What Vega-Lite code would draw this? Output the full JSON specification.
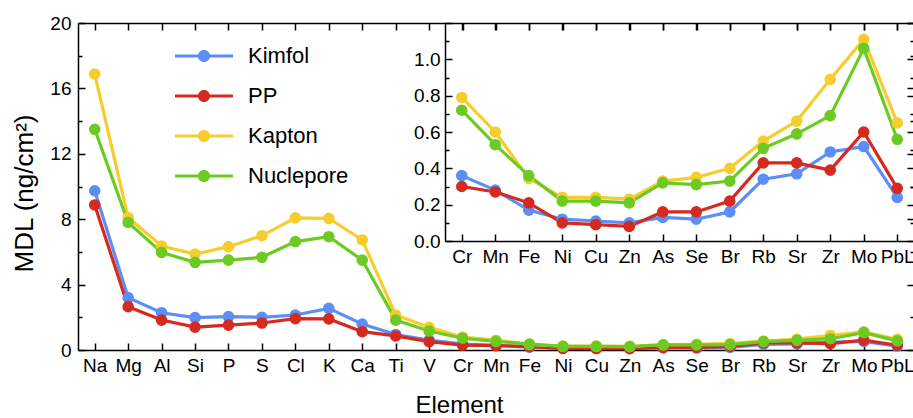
{
  "$schema": "https://vega.github.io/schema/vega-lite/v6.json",
  "width": 836,
  "height": 327,
  "autosize": {"type": "none"},
  "padding": {"left": 78, "top": 23, "right": 0, "bottom": 68},
  "background": "white",
  "config": {
    "view": {"stroke": null},
    "font": "Liberation Sans",
    "axis": {
      "domainColor": "black",
      "domainWidth": 1.5,
      "tickColor": "black",
      "tickWidth": 1.5,
      "labelColor": "black",
      "labelFont": "Liberation Sans",
      "titleFont": "Liberation Sans",
      "titleColor": "black",
      "titleFontWeight": "normal",
      "grid": false,
      "labelOverlap": false
    }
  },
  "datasets": {
    "mdl": [
      {"element": "Na", "filter": "Kimfol", "value": 9.74},
      {"element": "Mg", "filter": "Kimfol", "value": 3.2},
      {"element": "Al", "filter": "Kimfol", "value": 2.28},
      {"element": "Si", "filter": "Kimfol", "value": 1.98},
      {"element": "P", "filter": "Kimfol", "value": 2.04},
      {"element": "S", "filter": "Kimfol", "value": 2.0},
      {"element": "Cl", "filter": "Kimfol", "value": 2.14},
      {"element": "K", "filter": "Kimfol", "value": 2.55},
      {"element": "Ca", "filter": "Kimfol", "value": 1.59},
      {"element": "Ti", "filter": "Kimfol", "value": 0.95},
      {"element": "V", "filter": "Kimfol", "value": 0.6},
      {"element": "Cr", "filter": "Kimfol", "value": 0.36},
      {"element": "Mn", "filter": "Kimfol", "value": 0.28},
      {"element": "Fe", "filter": "Kimfol", "value": 0.17},
      {"element": "Ni", "filter": "Kimfol", "value": 0.12},
      {"element": "Cu", "filter": "Kimfol", "value": 0.11},
      {"element": "Zn", "filter": "Kimfol", "value": 0.10},
      {"element": "As", "filter": "Kimfol", "value": 0.13},
      {"element": "Se", "filter": "Kimfol", "value": 0.12},
      {"element": "Br", "filter": "Kimfol", "value": 0.16},
      {"element": "Rb", "filter": "Kimfol", "value": 0.34},
      {"element": "Sr", "filter": "Kimfol", "value": 0.37},
      {"element": "Zr", "filter": "Kimfol", "value": 0.49},
      {"element": "Mo", "filter": "Kimfol", "value": 0.52},
      {"element": "PbL", "filter": "Kimfol", "value": 0.24},
      {"element": "Na", "filter": "PP", "value": 8.87},
      {"element": "Mg", "filter": "PP", "value": 2.65},
      {"element": "Al", "filter": "PP", "value": 1.83},
      {"element": "Si", "filter": "PP", "value": 1.4},
      {"element": "P", "filter": "PP", "value": 1.52},
      {"element": "S", "filter": "PP", "value": 1.65},
      {"element": "Cl", "filter": "PP", "value": 1.92},
      {"element": "K", "filter": "PP", "value": 1.9},
      {"element": "Ca", "filter": "PP", "value": 1.12},
      {"element": "Ti", "filter": "PP", "value": 0.86},
      {"element": "V", "filter": "PP", "value": 0.51},
      {"element": "Cr", "filter": "PP", "value": 0.30},
      {"element": "Mn", "filter": "PP", "value": 0.27},
      {"element": "Fe", "filter": "PP", "value": 0.21},
      {"element": "Ni", "filter": "PP", "value": 0.10},
      {"element": "Cu", "filter": "PP", "value": 0.09},
      {"element": "Zn", "filter": "PP", "value": 0.08},
      {"element": "As", "filter": "PP", "value": 0.16},
      {"element": "Se", "filter": "PP", "value": 0.16},
      {"element": "Br", "filter": "PP", "value": 0.22},
      {"element": "Rb", "filter": "PP", "value": 0.43},
      {"element": "Sr", "filter": "PP", "value": 0.43},
      {"element": "Zr", "filter": "PP", "value": 0.39},
      {"element": "Mo", "filter": "PP", "value": 0.60},
      {"element": "PbL", "filter": "PP", "value": 0.29},
      {"element": "Na", "filter": "Kapton", "value": 16.88},
      {"element": "Mg", "filter": "Kapton", "value": 8.1},
      {"element": "Al", "filter": "Kapton", "value": 6.36},
      {"element": "Si", "filter": "Kapton", "value": 5.87},
      {"element": "P", "filter": "Kapton", "value": 6.32},
      {"element": "S", "filter": "Kapton", "value": 6.99},
      {"element": "Cl", "filter": "Kapton", "value": 8.08},
      {"element": "K", "filter": "Kapton", "value": 8.05},
      {"element": "Ca", "filter": "Kapton", "value": 6.73},
      {"element": "Ti", "filter": "Kapton", "value": 2.14},
      {"element": "V", "filter": "Kapton", "value": 1.39},
      {"element": "Cr", "filter": "Kapton", "value": 0.79},
      {"element": "Mn", "filter": "Kapton", "value": 0.60},
      {"element": "Fe", "filter": "Kapton", "value": 0.345},
      {"element": "Ni", "filter": "Kapton", "value": 0.24},
      {"element": "Cu", "filter": "Kapton", "value": 0.24},
      {"element": "Zn", "filter": "Kapton", "value": 0.23},
      {"element": "As", "filter": "Kapton", "value": 0.33},
      {"element": "Se", "filter": "Kapton", "value": 0.35},
      {"element": "Br", "filter": "Kapton", "value": 0.40},
      {"element": "Rb", "filter": "Kapton", "value": 0.55},
      {"element": "Sr", "filter": "Kapton", "value": 0.66},
      {"element": "Zr", "filter": "Kapton", "value": 0.89},
      {"element": "Mo", "filter": "Kapton", "value": 1.11},
      {"element": "PbL", "filter": "Kapton", "value": 0.65},
      {"element": "Na", "filter": "Nuclepore", "value": 13.5},
      {"element": "Mg", "filter": "Nuclepore", "value": 7.8},
      {"element": "Al", "filter": "Nuclepore", "value": 5.97},
      {"element": "Si", "filter": "Nuclepore", "value": 5.36},
      {"element": "P", "filter": "Nuclepore", "value": 5.5},
      {"element": "S", "filter": "Nuclepore", "value": 5.67},
      {"element": "Cl", "filter": "Nuclepore", "value": 6.63},
      {"element": "K", "filter": "Nuclepore", "value": 6.93},
      {"element": "Ca", "filter": "Nuclepore", "value": 5.5},
      {"element": "Ti", "filter": "Nuclepore", "value": 1.83},
      {"element": "V", "filter": "Nuclepore", "value": 1.16},
      {"element": "Cr", "filter": "Nuclepore", "value": 0.72},
      {"element": "Mn", "filter": "Nuclepore", "value": 0.53},
      {"element": "Fe", "filter": "Nuclepore", "value": 0.36},
      {"element": "Ni", "filter": "Nuclepore", "value": 0.22},
      {"element": "Cu", "filter": "Nuclepore", "value": 0.22},
      {"element": "Zn", "filter": "Nuclepore", "value": 0.21},
      {"element": "As", "filter": "Nuclepore", "value": 0.32},
      {"element": "Se", "filter": "Nuclepore", "value": 0.31},
      {"element": "Br", "filter": "Nuclepore", "value": 0.33},
      {"element": "Rb", "filter": "Nuclepore", "value": 0.51},
      {"element": "Sr", "filter": "Nuclepore", "value": 0.59},
      {"element": "Zr", "filter": "Nuclepore", "value": 0.69},
      {"element": "Mo", "filter": "Nuclepore", "value": 1.06},
      {"element": "PbL", "filter": "Nuclepore", "value": 0.56}
    ]
  },
  "data": {"name": "mdl"},
  "resolve": {
    "scale": {"x": "independent", "y": "independent"},
    "axis": {"x": "independent", "y": "independent"}
  },
  "layer": [
    {
      "mark": {"type": "tick", "opacity": 0},
      "encoding": {
        "x": {
          "field": "element", "type": "nominal",
          "scale": {"type": "point", "padding": 0.5, "domain": ["Na","Mg","Al","Si","P","S","Cl","K","Ca","Ti","V","Cr","Mn","Fe","Ni","Cu","Zn","As","Se","Br","Rb","Sr","Zr","Mo","PbL"]},
          "axis": {"orient": "top", "labels": false, "title": null, "tickSize": -7}
        },
        "y": {
          "field": "value", "type": "quantitative",
          "scale": {"domain": [0, 20]},
          "axis": {"orient": "right", "labels": false, "title": null,
            "values": [0,2,4,6,8,10,12,14,16,18,20],
            "tickSize": {"condition": {"test": "datum.value % 4 === 0", "value": -7}, "value": -4}}
        }
      }
    },
    {
      "mark": {"type": "line", "strokeWidth": 3.2, "point": {"filled": true, "size": 135, "opacity": 1}},
      "encoding": {
        "x": {
          "field": "element", "type": "nominal",
          "scale": {"type": "point", "padding": 0.5, "domain": ["Na","Mg","Al","Si","P","S","Cl","K","Ca","Ti","V","Cr","Mn","Fe","Ni","Cu","Zn","As","Se","Br","Rb","Sr","Zr","Mo","PbL"]},
          "axis": {"orient": "bottom", "labelAngle": 0, "labelFontSize": 19, "tickSize": -7, "labelPadding": 13,
            "title": "Element", "titleFontSize": 24, "titleX": 381, "titleY": 62, "titleAlign": "center", "titleBaseline": "alphabetic"}
        },
        "y": {
          "field": "value", "type": "quantitative",
          "scale": {"domain": [0, 20]},
          "axis": {"orient": "left", "values": [0,2,4,6,8,10,12,14,16,18,20],
            "labelExpr": "datum.value % 4 === 0 ? datum.label : ''",
            "labelFontSize": 19, "labelPadding": 14,
            "tickSize": {"condition": {"test": "datum.value % 4 === 0", "value": -7}, "value": -4},
            "title": "MDL (ng/cm²)", "titleFontSize": 26, "titleX": -46, "titleY": 170, "titleAngle": -90,
            "titleAlign": "center", "titleBaseline": "alphabetic"}
        },
        "color": {
          "field": "filter", "type": "nominal",
          "scale": {"domain": ["Kimfol", "PP", "Kapton", "Nuclepore"], "range": ["#5b8ff7", "#d42a20", "#f5cd2e", "#6ccb22"]},
          "legend": {
            "orient": "none", "legendX": 97, "legendY": 4, "title": null, "padding": 0,
            "symbolType": "M-1,-0.055L1,-0.055L1,0.055L-1,0.055Z M-0.21,0A0.21,0.21 0 1,1 0.21,0A0.21,0.21 0 1,1 -0.21,0Z",
            "symbolSize": 3364, "symbolStrokeWidth": 0, "rowPadding": -27,
            "labelFontSize": 22, "labelOffset": 15, "labelColor": "black", "labelFont": "Liberation Sans",
            "encode": {"symbols": {"update": {"fill": {"scale": "color", "field": "value"}, "fillOpacity": {"value": 1}}}}
          }
        }
      }
    },
    {
      "transform": [{"filter": {"field": "element", "oneOf": ["Cr","Mn","Fe","Ni","Cu","Zn","As","Se","Br","Rb","Sr","Zr","Mo","PbL"]}}],
      "mark": {"type": "tick", "opacity": 0},
      "encoding": {
        "x": {
          "field": "element", "type": "nominal",
          "scale": {"type": "point", "padding": 0.5, "range": [367, 836], "domain": ["Cr","Mn","Fe","Ni","Cu","Zn","As","Se","Br","Rb","Sr","Zr","Mo","PbL"]},
          "axis": {"orient": "top", "labels": false, "title": null, "tickSize": -7, "domain": false}
        },
        "y": {
          "field": "value", "type": "quantitative",
          "scale": {"domain": [0, 1.2], "range": [218, 0]},
          "axis": {"orient": "right", "labels": false, "title": null,
            "values": [0,0.1,0.2,0.3,0.4,0.5,0.6,0.7,0.8,0.9,1.0,1.1,1.2],
            "tickSize": {"condition": {"test": "round(datum.value*10) % 2 === 0", "value": -7}, "value": -4}}
        }
      }
    },
    {
      "transform": [{"filter": {"field": "element", "oneOf": ["Cr","Mn","Fe","Ni","Cu","Zn","As","Se","Br","Rb","Sr","Zr","Mo","PbL"]}}],
      "mark": {"type": "line", "strokeWidth": 3.2, "point": {"filled": true, "size": 135, "opacity": 1}},
      "encoding": {
        "x": {
          "field": "element", "type": "nominal",
          "scale": {"type": "point", "padding": 0.5, "range": [367, 836], "domain": ["Cr","Mn","Fe","Ni","Cu","Zn","As","Se","Br","Rb","Sr","Zr","Mo","PbL"]},
          "axis": {"orient": "bottom", "offset": -109, "labelAngle": 0, "labelFontSize": 19, "tickSize": -7, "labelPadding": 13, "title": null}
        },
        "y": {
          "field": "value", "type": "quantitative",
          "scale": {"domain": [0, 1.2], "range": [218, 0]},
          "axis": {"orient": "left", "offset": -367, "format": ".1f",
            "values": [0,0.1,0.2,0.3,0.4,0.5,0.6,0.7,0.8,0.9,1.0,1.1,1.2],
            "labelExpr": "round(datum.value*10) % 2 === 0 && datum.value < 1.15 ? datum.label : ''",
            "labelFontSize": 19, "labelPadding": 12,
            "tickSize": {"condition": {"test": "round(datum.value*10) % 2 === 0", "value": -7}, "value": -4},
            "title": null}
        },
        "color": {
          "field": "filter", "type": "nominal",
          "scale": {"domain": ["Kimfol", "PP", "Kapton", "Nuclepore"], "range": ["#5b8ff7", "#d42a20", "#f5cd2e", "#6ccb22"]}
        }
      }
    }
  ]
}
